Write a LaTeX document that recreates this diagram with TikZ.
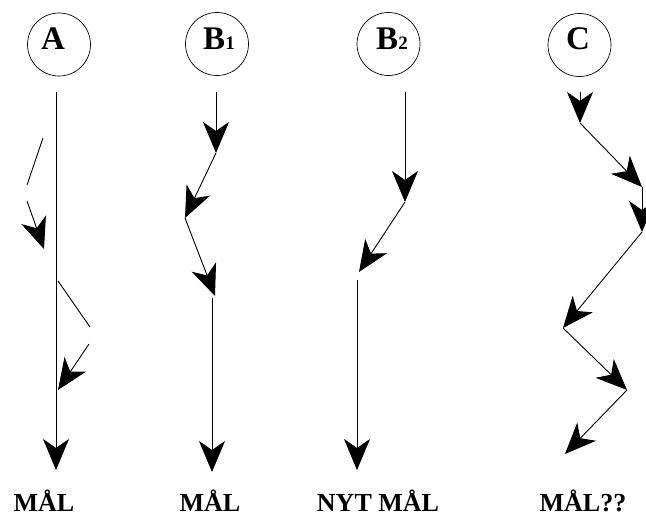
\documentclass[tikz,border=0pt]{standalone}
\usepackage{fontspec}
\setmainfont{Liberation Serif}
\usetikzlibrary{arrows.meta}

\begin{document}
\begin{tikzpicture}[
    ring/.style = {draw, circle, minimum size = 63pt, inner sep = 0pt, line width = 0.7pt},
    letter/.style = {anchor = base, font = \bfseries\fontsize{33}{33}\selectfont},
    goal/.style = {anchor = base, font = \bfseries\fontsize{26}{26}\selectfont},
    path/.style = {line width = 0.9pt},
    arr/.style = {path, -{Stealth[length = 31pt, width = 26pt, inset = 9pt]}}
]
        \useasboundingbox (0pt, 0pt) rectangle (646pt, -517pt);

        % Circles
        \node [ring] (a) at (59pt, -44.5pt) {};
        \node [ring] (b1) at (217pt, -44pt) {};
        \node [ring] (b2) at (388.5pt, -44pt) {};
        \node [ring] (c) at (579.5pt, -45pt) {};

        % Letters
        \node [letter] (la) at (53pt, -49.5pt) {A};
        \node [letter] (lb1) at (219pt, -49pt) {B{\fontsize{19}{19}\selectfont 1}};
        \node [letter] (lb2) at (392pt, -49pt) {B{\fontsize{19}{19}\selectfont 2}};
        \node [letter] (lc) at (578pt, -49.5pt) {C};

        % Goals
        \node [goal] (ga) at (44pt, -511pt) {MÅL};
        \node [goal] (gb1) at (210pt, -511pt) {MÅL};
        \node [goal] (gb2) at (378pt, -511pt) {NYT MÅL};
        \node [goal] (gc) at (583pt, -511pt) {MÅL??};

        % Points
        \coordinate (a0) at (56pt, -92pt);
        \coordinate (a1) at (56pt, -470pt);
        \coordinate (a2) at (43pt, -138pt);
        \coordinate (a3) at (27pt, -185pt);
        \coordinate (a4) at (27pt, -201pt);
        \coordinate (a5) at (44pt, -249pt);
        \coordinate (a6) at (58pt, -281pt);
        \coordinate (a7) at (90pt, -327pt);
        \coordinate (a8) at (89pt, -344pt);
        \coordinate (a9) at (58pt, -390pt);

        \coordinate (b0) at (216pt, -92pt);
        \coordinate (b3) at (216pt, -153pt);
        \coordinate (b4) at (185pt, -218pt);
        \coordinate (b5) at (215pt, -296pt);
        \coordinate (b6) at (212pt, -298pt);
        \coordinate (b7) at (212pt, -472pt);

        \coordinate (n0) at (405pt, -92pt);
        \coordinate (n1) at (405pt, -202pt);
        \coordinate (n2) at (359pt, -272pt);
        \coordinate (n3) at (357pt, -280pt);
        \coordinate (n4) at (357pt, -470pt);

        \coordinate (c0) at (580pt, -92pt);
        \coordinate (c1) at (580pt, -123pt);
        \coordinate (c2) at (642pt, -187pt);
        \coordinate (c3) at (642pt, -232pt);
        \coordinate (c4) at (563pt, -328pt);
        \coordinate (c5) at (627pt, -390pt);
        \coordinate (c6) at (565pt, -454pt);

        % Lines
        \draw [arr] (a0) -- (a1);
        \draw [path] (a2) -- (a3);
        \draw [arr] (a4) -- (a5);
        \draw [path] (a6) -- (a7);
        \draw [arr] (a8) -- (a9);

        \draw [arr] (b0) -- (b3);
        \draw [arr] (b3) -- (b4);
        \draw [arr] (b4) -- (b5);
        \draw [arr] (b6) -- (b7);

        \draw [arr] (n0) -- (n1);
        \draw [arr] (n1) -- (n2);
        \draw [arr] (n3) -- (n4);

        \draw [arr] (c0) -- (c1);
        \draw [arr] (c1) -- (c2);
        \draw [arr] (c2) -- (c3);
        \draw [arr] (c3) -- (c4);
        \draw [arr] (c4) -- (c5);
        \draw [arr] (c5) -- (c6);

\end{tikzpicture}
\end{document}
